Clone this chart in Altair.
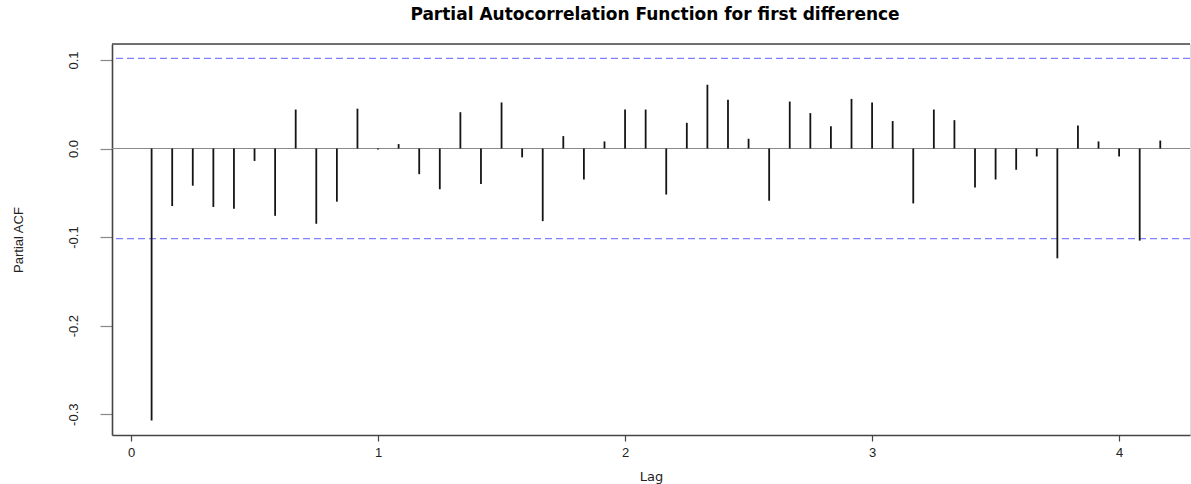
import altair as alt
import pandas as pd

# Partial autocorrelations of the first-differenced monthly series, lags 1..50
lag_months = list(range(1, 51))
frequency = 12
pacf_values = [
    -0.307, -0.065, -0.042, -0.066, -0.068, -0.014, -0.076, 0.044, -0.085, -0.060,
    0.045, -0.001, 0.005, -0.029, -0.046, 0.041, -0.040, 0.052, -0.010, -0.082,
    0.014, -0.035, 0.008, 0.044, 0.044, -0.052, 0.029, 0.072, 0.055, 0.011,
    -0.059, 0.053, 0.040, 0.025, 0.056, 0.052, 0.031, -0.062, 0.044, 0.032,
    -0.044, -0.035, -0.024, -0.009, -0.124, 0.026, 0.008, -0.009, -0.104, 0.009,
]
conf_limit = 0.1018  # 95% white-noise band
x_ticks = [0, 1, 2, 3, 4]
y_ticks = [-0.3, -0.2, -0.1, 0.0, 0.1]

pacf_df = pd.DataFrame({
    "lag": [m / frequency for m in lag_months],
    "pacf": pacf_values,
    "zero": [0.0] * len(lag_months),
})
band_df = pd.DataFrame({"y": [conf_limit, -conf_limit]})
zero_df = pd.DataFrame({"y": [0.0]})

W, H = 1078, 391
FONT = "Liberation Sans"

x_scale = alt.Scale(domain=[-0.077, 4.287], nice=False, zero=False)
y_scale = alt.Scale(domain=[-0.3235, 0.118], nice=False, zero=False)

x_axis = alt.Axis(
    values=x_ticks, format="d", grid=False,
    tickSize=6, tickColor="#444", tickWidth=1.2,
    domainColor="#444", domainWidth=1.6,
    labelFont=FONT, labelFontSize=13, labelColor="#222", labelPadding=5,
    labelFlush=False, labelOverlap=False,
    title="Lag", titleFont="DejaVu Sans", titleFontSize=13, titleFontWeight="normal",
    titleColor="#222", titleY=41, titleBaseline="middle",
)
y_axis = alt.Axis(
    values=y_ticks, grid=False,
    labelExpr="datum.value < 0 ? '-' + format(-datum.value, '.1f') : format(datum.value, '.1f')",
    labelAngle=270, labelAlign="center", labelBaseline="bottom", labelPadding=20,
    labelFont=FONT, labelFontSize=13, labelColor="#222",
    labelFlush=False, labelOverlap=False,
    tickSize=12, tickColor="#888", tickWidth=1.2,
    domainColor="#444", domainWidth=1.6,
    title="Partial ACF", titleFont=FONT, titleFontSize=13, titleFontWeight="normal",
    titleColor="#222", titleAngle=270, titleAlign="center", titleBaseline="middle",
    titleX=-94, titleY=H / 2,
)

# horizontal reference at zero
zero_line = alt.Chart(zero_df).mark_rule(color="#8a8a8a", strokeWidth=1).encode(
    y=alt.Y("y:Q", scale=y_scale, axis=y_axis)
)

# dashed confidence band
band = alt.Chart(band_df).mark_rule(
    color="#8080ff", strokeWidth=1.3, strokeDash=[7, 4]
).encode(y=alt.Y("y:Q", scale=y_scale, axis=y_axis))

# one vertical spike per lag
spikes = alt.Chart(pacf_df).mark_rule(color="#141414", strokeWidth=1.8).encode(
    x=alt.X("lag:Q", scale=x_scale, axis=x_axis),
    y=alt.Y("zero:Q", scale=y_scale, axis=y_axis),
    y2="pacf:Q",
)

# top edge of the plot frame
top_edge = alt.Chart(zero_df).mark_rule(color="#444", strokeWidth=1.6).encode(
    x=alt.value(0), x2=alt.value(W), y=alt.value(0)
)

chart = alt.layer(zero_line, band, spikes, top_edge).properties(
    width=W,
    height=H,
    title=alt.TitleParams(
        "Partial Autocorrelation Function for first difference",
        font="DejaVu Sans", fontSize=17, fontWeight="bold", color="#000",
        anchor="middle", frame="group", offset=6, baseline="alphabetic", dx=4,
    ),
    padding={"left": 112, "top": 44, "right": 1, "bottom": 49},
    autosize=alt.AutoSizeParams(type="none"),
).configure_view(stroke=None).configure(background="white")

chart.save("out.html", embed_options={"renderer": "svg", "actions": False})
